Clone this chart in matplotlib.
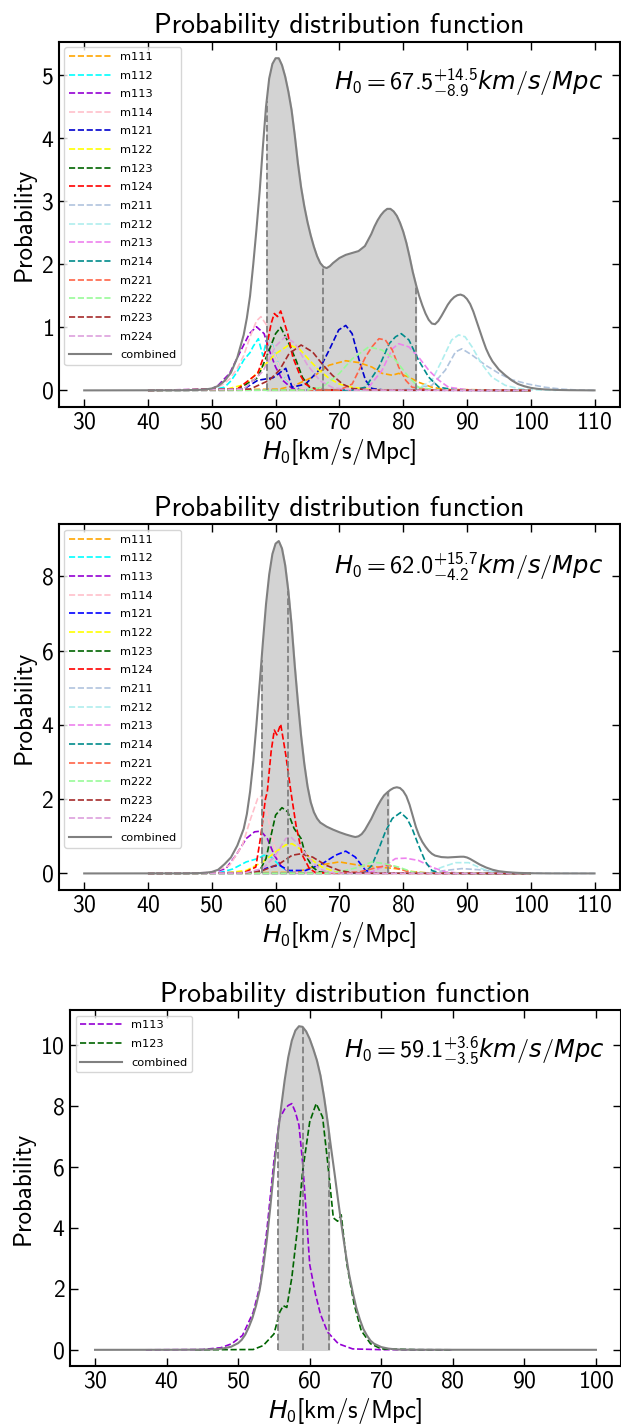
import numpy as np
import matplotlib
matplotlib.use("Agg")
import matplotlib.pyplot as plt

plt.rcParams.update({
    'font.family': 'cmss10',
    'mathtext.fontset': 'custom',
    'mathtext.rm': 'cmss10',
    'mathtext.it': 'DejaVu Sans:italic',
    'mathtext.bf': 'cmss10',
    'axes.formatter.use_mathtext': True,
    'axes.unicode_minus': False,
})

# ---------------- panel 1 (all 16 models) ----------------
models_1 = ['m111', 'm112', 'm113', 'm114', 'm121', 'm122', 'm123', 'm124',
            'm211', 'm212', 'm213', 'm214', 'm221', 'm222', 'm223', 'm224']
colors_1 = ['orange', 'cyan', 'darkviolet', 'pink', 'mediumblue', 'yellow', 'darkgreen', 'red',
            'lightsteelblue', 'paleturquoise', 'violet', 'darkcyan', 'tomato', 'palegreen', 'brown', 'plum']
x_1 = [
    [40, 60.6, 63, 65.8, 68.4, 71, 73.1, 75.1, 76.7, 78.3, 79.3, 80.9, 82.4, 84.5, 86.6, 100],
    [40, 50, 52, 53, 54, 55, 56, 56.5, 57.3, 58, 58.8, 59.5, 60.5, 61.5, 62.5, 64, 66, 100],
    [40, 50, 51, 52.8, 54.6, 55.9, 57, 58.2, 59, 60, 61.1, 62.6, 65, 100],
    [40, 50, 51.5, 52.8, 54, 55, 56, 57, 57.7, 58.5, 59.5, 60.5, 61.5, 63, 65, 100],
    [40, 55, 57.2, 59.6, 61.6, 62.6, 64.7, 66.8, 68.4, 69.9, 71, 72, 73.1, 74.1, 75.1, 77, 100],
    [40, 52, 55.4, 58, 60, 62.1, 63.7, 65.3, 66.8, 68.4, 70, 72, 75, 100],
    [40, 54, 57.2, 59, 60, 60.8, 62.1, 63.2, 64.2, 65.3, 67, 100],
    [40, 54, 57.2, 58.5, 59.3, 59.8, 60.3, 60.8, 61.9, 62.7, 63.7, 64.7, 65.8, 68, 100],
    [40, 80, 84.5, 86.6, 88.2, 89.2, 90.8, 92.9, 95, 97, 99.6, 102.2, 104.8, 107.4, 110],
    [40, 80, 82.4, 84.5, 86.1, 87.6, 88.7, 89.7, 90.8, 92.3, 93.9, 96, 98, 100, 104],
    [40, 72, 74.6, 76.7, 78.3, 79.3, 80.9, 82.4, 84, 85.6, 87.1, 90, 100],
    [40, 72, 74.1, 76.2, 77.8, 78.8, 79.7, 80.9, 82.4, 84, 85.6, 88, 100],
    [40, 70, 72, 74.1, 75.1, 76.2, 77.2, 78.3, 79.3, 80.4, 81.4, 84, 100],
    [40, 65, 67.3, 70, 72, 74.6, 76.7, 78.8, 80.9, 82.4, 85, 100],
    [40, 56, 59, 60.6, 62.1, 64, 65.8, 67.3, 68.9, 70.5, 72, 75, 100],
    [40, 55, 58, 60, 61.5, 63, 65, 67, 69, 72, 100],
]
y_1 = [
    [0, 0.02, 0.08, 0.21, 0.4, 0.47, 0.44, 0.37, 0.27, 0.24, 0.27, 0.21, 0.13, 0.05, 0.015, 0],
    [0, 0.01, 0.05, 0.15, 0.3, 0.48, 0.6, 0.7, 0.82, 0.55, 0.88, 0.72, 0.4, 0.2, 0.08, 0.02, 0.005, 0],
    [0, 0.02, 0.08, 0.27, 0.64, 0.9, 1.01, 0.9, 0.64, 0.37, 0.16, 0.03, 0.005, 0],
    [0, 0.02, 0.08, 0.18, 0.35, 0.55, 0.85, 1.1, 1.17, 1.05, 0.7, 0.4, 0.2, 0.06, 0.01, 0],
    [0, 0.02, 0.16, 0.2, 0.35, 0.05, 0.1, 0.32, 0.64, 0.96, 1.03, 0.9, 0.48, 0.16, 0.03, 0.005, 0],
    [0, 0.01, 0.1, 0.37, 0.58, 0.72, 0.66, 0.48, 0.32, 0.19, 0.1, 0.05, 0.01, 0],
    [0, 0.02, 0.2, 0.64, 0.9, 1.0, 0.74, 0.48, 0.21, 0.05, 0.01, 0],
    [0, 0.02, 0.27, 0.64, 1.06, 1.22, 1.17, 1.26, 0.9, 0.53, 0.27, 0.1, 0.03, 0.005, 0],
    [0, 0.01, 0.08, 0.32, 0.61, 0.66, 0.56, 0.4, 0.27, 0.17, 0.1, 0.05, 0.02, 0.005, 0],
    [0, 0.005, 0.03, 0.16, 0.48, 0.8, 0.88, 0.85, 0.69, 0.42, 0.21, 0.08, 0.03, 0.01, 0],
    [0, 0.005, 0.05, 0.32, 0.66, 0.74, 0.69, 0.53, 0.32, 0.16, 0.05, 0.01, 0],
    [0, 0.005, 0.05, 0.37, 0.74, 0.85, 0.9, 0.8, 0.48, 0.21, 0.05, 0.01, 0],
    [0, 0.005, 0.1, 0.53, 0.69, 0.82, 0.8, 0.64, 0.37, 0.16, 0.05, 0.01, 0],
    [0, 0.005, 0.05, 0.27, 0.5, 0.69, 0.64, 0.48, 0.21, 0.05, 0.01, 0],
    [0, 0.02, 0.16, 0.32, 0.58, 0.72, 0.61, 0.42, 0.24, 0.1, 0.03, 0.005, 0],
    [0, 0.02, 0.3, 0.7, 0.85, 0.75, 0.4, 0.15, 0.04, 0.005, 0],
]
comb_x_1 = [30, 45, 48, 49, 50, 51, 52, 53, 54, 55, 55.5, 56, 56.5, 57, 57.5, 58, 58.5, 59, 59.5,
            60, 60.5, 61, 61.5, 62, 62.5, 63, 63.5, 64, 64.5, 65, 65.5, 66, 66.5, 67, 67.5, 68,
            68.5, 69, 70, 71, 72, 73, 74, 75, 75.5, 76, 76.5, 77, 77.5, 78, 78.5, 79, 79.5, 80,
            80.5, 81, 81.5, 82, 82.5, 83, 83.5, 84, 84.5, 85, 85.5, 86, 86.5, 87, 87.5, 88, 88.5,
            89, 89.5, 90, 90.5, 91, 91.5, 92, 92.5, 93, 93.5, 94, 95, 96, 97, 98, 99, 100, 101,
            102, 104, 106, 110]
comb_y_1 = [0, 0.002, 0.008, 0.015, 0.03, 0.07, 0.15, 0.28, 0.52, 0.88, 1.15, 1.5, 2.0, 2.55,
            3.15, 3.85, 4.5, 4.95, 5.18, 5.27, 5.27, 5.16, 4.98, 4.74, 4.45, 4.05, 3.6, 3.22,
            2.92, 2.67, 2.46, 2.28, 2.13, 2.02, 1.96, 1.94, 1.97, 2.02, 2.1, 2.15, 2.18, 2.21,
            2.29, 2.48, 2.6, 2.7, 2.78, 2.84, 2.88, 2.88, 2.84, 2.77, 2.66, 2.52, 2.34, 2.12,
            1.88, 1.68, 1.5, 1.35, 1.22, 1.12, 1.06, 1.05, 1.1, 1.18, 1.27, 1.36, 1.43, 1.48,
            1.51, 1.52, 1.5, 1.45, 1.37, 1.25, 1.1, 0.95, 0.8, 0.66, 0.55, 0.46, 0.33, 0.24,
            0.16, 0.1, 0.065, 0.04, 0.025, 0.016, 0.007, 0.003, 0]
h0_1 = (67.5, 8.9, 14.5)

# ---------------- panel 2 (all 16 models) ----------------
models_2 = models_1
colors_2 = ['orange', 'cyan', 'darkviolet', 'pink', 'blue', 'yellow', 'darkgreen', 'red',
            'lightsteelblue', 'paleturquoise', 'violet', 'darkcyan', 'tomato', 'palegreen', 'brown', 'plum']
x_2 = [
    [40, 63.2, 66.8, 70, 73.1, 76.2, 78.8, 81.4, 84, 100],
    [40, 51, 53.3, 55.4, 57.2, 58.2, 59.3, 60.6, 62.1, 64, 100],
    [40, 50, 52.2, 53.8, 55.4, 56.7, 57.7, 58.7, 59.8, 60.8, 62.1, 64, 100],
    [40, 50, 52.8, 54.8, 56.1, 57.2, 57.9, 58.6, 59.3, 60, 61.1, 62.1, 64, 100],
    [40, 56.9, 59, 60.6, 62.1, 64.7, 67.3, 69.4, 71, 72.5, 74.1, 75.6, 100],
    [40, 52, 55.4, 58, 60, 61.6, 62.6, 64.2, 65.8, 67.3, 69.4, 72, 100],
    [40, 55, 57.4, 58.5, 59.3, 60, 61, 61.9, 62.9, 64, 64.7, 65.8, 66.8, 69, 100],
    [40, 55, 56.9, 57.7, 58.4, 58.7, 59.3, 59.8, 60.2, 60.8, 61.6, 62.4, 63.2, 64.2, 65.3, 66.3, 69, 100],
    [40, 82, 84, 86.6, 89.2, 91.8, 95, 98, 102, 110],
    [40, 82, 84, 86.1, 88.2, 90.3, 92.3, 94.4, 97, 100],
    [40, 72, 75.1, 77.2, 78.8, 80.4, 82.4, 84.5, 86.6, 89, 100],
    [40, 72, 74.1, 75.1, 76.2, 77.2, 78.3, 79.6, 80.6, 81.4, 82.4, 83.5, 84.5, 85.6, 88, 100],
    [40, 70, 73.1, 76.2, 77.7, 79.3, 80.9, 83, 100],
    [40, 68, 70, 73.1, 75.1, 77.2, 79.3, 81.4, 84, 100],
    [40, 55, 58, 60.6, 62.6, 64, 65.8, 67.9, 70, 72, 75, 100],
    [40, 55, 58, 60, 61.6, 62.4, 63.7, 65.3, 66.8, 68.4, 71, 100],
]
y_2 = [
    [0, 0.03, 0.22, 0.31, 0.22, 0.17, 0.13, 0.05, 0.01, 0],
    [0, 0.01, 0.12, 0.31, 0.4, 0.49, 0.44, 0.22, 0.04, 0.01, 0],
    [0, 0.02, 0.13, 0.49, 0.94, 1.12, 1.14, 0.94, 0.49, 0.22, 0.04, 0.01, 0],
    [0, 0.02, 0.22, 0.76, 1.48, 2.02, 2.1, 1.66, 1.12, 0.58, 0.22, 0.04, 0.01, 0],
    [0, 0.03, 0.17, 0.22, 0.08, 0.08, 0.26, 0.49, 0.6, 0.44, 0.08, 0.01, 0],
    [0, 0.01, 0.08, 0.31, 0.58, 0.77, 0.8, 0.62, 0.35, 0.17, 0.04, 0.01, 0],
    [0, 0.01, 0.04, 0.4, 1.03, 1.57, 1.77, 1.66, 1.21, 0.94, 0.49, 0.17, 0.04, 0.01, 0],
    [0, 0.02, 0.17, 1.03, 2.0, 2.2, 3.28, 3.86, 3.73, 4.02, 3.19, 2.2, 1.3, 0.49, 0.13, 0.02, 0.005, 0],
    [0, 0.005, 0.01, 0.08, 0.13, 0.1, 0.04, 0.01, 0.003, 0],
    [0, 0.005, 0.02, 0.17, 0.29, 0.29, 0.13, 0.02, 0.005, 0],
    [0, 0.005, 0.04, 0.22, 0.4, 0.41, 0.35, 0.17, 0.04, 0.01, 0],
    [0, 0.005, 0.04, 0.22, 0.67, 1.12, 1.48, 1.64, 1.48, 1.21, 0.76, 0.31, 0.08, 0.01, 0.005, 0],
    [0, 0.005, 0.04, 0.17, 0.22, 0.13, 0.04, 0.01, 0],
    [0, 0.005, 0.04, 0.17, 0.31, 0.26, 0.17, 0.04, 0.01, 0],
    [0, 0.01, 0.08, 0.26, 0.49, 0.53, 0.44, 0.22, 0.08, 0.02, 0.005, 0],
    [0, 0.01, 0.13, 0.49, 0.94, 0.98, 0.76, 0.4, 0.13, 0.02, 0.005, 0],
]
comb_x_2 = [30, 45, 48, 49, 50, 51, 52, 53, 54, 55, 55.5, 56, 56.5, 57, 57.5, 58, 58.5, 59, 59.5,
            60, 60.5, 61, 61.5, 62, 62.5, 63, 63.5, 64, 64.5, 65, 65.5, 66, 66.5, 67, 68, 69, 70,
            71, 72, 72.5, 73, 73.5, 74, 74.5, 75, 75.5, 76, 76.5, 77, 77.5, 78, 78.5, 79, 79.5,
            80, 80.5, 81, 81.5, 82, 82.5, 83, 83.5, 84, 84.5, 85, 86, 87, 88, 89, 89.5, 90, 90.5,
            91, 92, 93, 94, 95, 96, 97, 98, 100, 103, 110]
comb_y_2 = [0, 0.002, 0.008, 0.02, 0.04, 0.1, 0.25, 0.43, 0.75, 1.2, 1.6, 2.2, 3.0, 4.0, 5.1,
            6.2, 7.25, 8.05, 8.6, 8.88, 8.95, 8.75, 8.3, 7.6, 6.7, 5.6, 4.6, 3.7, 2.95, 2.35,
            1.92, 1.65, 1.48, 1.37, 1.26, 1.18, 1.11, 1.05, 1.0, 0.98, 1.0, 1.06, 1.17, 1.32,
            1.47, 1.65, 1.82, 1.97, 2.1, 2.18, 2.25, 2.3, 2.32, 2.3, 2.22, 2.08, 1.85, 1.55,
            1.25, 1.02, 0.85, 0.72, 0.61, 0.53, 0.48, 0.44, 0.43, 0.44, 0.45, 0.45, 0.43, 0.39,
            0.34, 0.24, 0.16, 0.1, 0.06, 0.04, 0.025, 0.015, 0.005, 0.001, 0]
h0_2 = (62.0, 4.2, 15.7)

# ---------------- panel 3 (two models) ----------------
models_3 = ['m113', 'm123']
colors_3 = ['darkviolet', 'darkgreen']
x_3 = [
    [37.1, 45, 47.6, 49.1, 50.6, 52.1, 53.1, 54.0, 55.0, 55.8, 56.5, 57.0, 57.5, 58.0, 58.5, 59.0,
     59.5, 60.0, 60.8, 61.5, 62.5, 64.0, 66.0, 70, 80],
    [44, 52.1, 53.5, 55.0, 55.8, 56.3, 56.8, 57.5, 58.3, 59.0, 60.0, 60.9, 61.8, 62.5, 63.3, 63.9,
     64.4, 65.2, 66.2, 67.2, 68.5, 70.0, 75, 80],
]
y_3 = [
    [0, 0.01, 0.07, 0.2, 0.47, 1.23, 2.15, 3.9, 6.2, 7.6, 7.9, 8.02, 8.08, 7.8, 7.37, 6.17,
     4.54, 2.8, 1.83, 1.17, 0.58, 0.2, 0.03, 0.005, 0],
    [0, 0.01, 0.14, 0.52, 1.23, 1.45, 1.39, 2.37, 4.0, 5.85, 7.48, 8.08, 7.64, 6.17, 4.33, 4.22,
     4.43, 2.8, 1.5, 0.63, 0.2, 0.03, 0.005, 0],
]
comb_x_3 = [30, 40, 45, 47, 48, 49, 50, 50.5, 51, 51.5, 52, 52.5, 53, 53.5, 54, 54.5, 55, 55.5, 56,
            56.5, 57, 57.5, 58, 58.5, 59, 59.5, 60, 60.5, 61, 61.5, 62, 62.5, 63, 63.5, 64, 64.5,
            65, 65.5, 66, 66.5, 67, 67.5, 68, 68.5, 69, 70, 71, 72, 73, 75, 100]
comb_y_3 = [0, 0.001, 0.005, 0.02, 0.05, 0.1, 0.22, 0.33, 0.5, 0.75, 1.05, 1.45, 1.95, 2.7, 3.6,
            4.7, 5.9, 7.0, 7.95, 8.85, 9.6, 10.15, 10.48, 10.62, 10.6, 10.45, 10.2, 9.87, 9.5,
            9.0, 8.3, 7.48, 6.6, 5.74, 4.85, 4.0, 3.2, 2.48, 1.9, 1.39, 1.0, 0.68, 0.47, 0.3,
            0.2, 0.09, 0.04, 0.015, 0.005, 0.002, 0]
h0_3 = (59.1, 3.5, 3.6)


def draw_panel(ax, labels, colors, xs, ys, cx, cy, h0, xticks, yticks):
    for lab, col, x, y in zip(labels, colors, xs, ys):
        ax.plot(x, y, '--', color=col, lw=1.2, label=lab)
    ax.plot(cx, cy, '-', color='gray', lw=1.5, label='combined')

    med, e_lo, e_hi = h0
    lo, hi = med - e_lo, med + e_hi
    cx = np.asarray(cx, dtype=float)
    cy = np.asarray(cy, dtype=float)
    inner = (cx > lo) & (cx < hi)
    fx = np.concatenate([[lo], cx[inner], [hi]])
    ax.fill_between(fx, 0, np.interp(fx, cx, cy), color='lightgray', zorder=0.5)
    for v in (lo, med, hi):
        ax.vlines(v, 0, np.interp(v, cx, cy), colors='gray', linestyles='--', lw=1.3)

    ax.text(0.97, 0.93, r'$H_0 = %.1f^{+%.1f}_{-%.1f} km/s/Mpc$' % (med, e_hi, e_lo),
            transform=ax.transAxes, ha='right', va='top', fontsize=17.5)

    ax.set_title('Probability distribution function', fontsize=20)
    ax.set_xlabel(r'$H_0$[km/s/Mpc]', fontsize=18, labelpad=2)
    ax.set_ylabel('Probability', fontsize=18)
    ax.set_xticks(xticks)
    ax.set_yticks(yticks)
    ax.tick_params(direction='in', top=True, right=True, length=6, width=1, labelsize=17)
    for sp in ax.spines.values():
        sp.set_linewidth(1.5)
    ax.legend(loc='upper left', prop={'family': 'DejaVu Sans', 'size': 8.2},
              handlelength=3.7, labelspacing=0.76, handletextpad=0.8)


fig = plt.figure(figsize=(6.21, 14.25), dpi=100)
ax1 = fig.add_axes([0.0945, 0.7144, 0.904, 0.2564])
ax2 = fig.add_axes([0.0945, 0.3754, 0.904, 0.2566])
ax3 = fig.add_axes([0.1127, 0.0414, 0.8873, 0.2498])

draw_panel(ax1, models_1, colors_1, x_1, y_1, comb_x_1, comb_y_1, h0_1,
           range(30, 111, 10), range(0, 6))
draw_panel(ax2, models_2, colors_2, x_2, y_2, comb_x_2, comb_y_2, h0_2,
           range(30, 111, 10), range(0, 9, 2))
draw_panel(ax3, models_3, colors_3, x_3, y_3, comb_x_3, comb_y_3, h0_3,
           range(30, 101, 10), range(0, 11, 2))

fig.savefig('out.png', dpi=100)
